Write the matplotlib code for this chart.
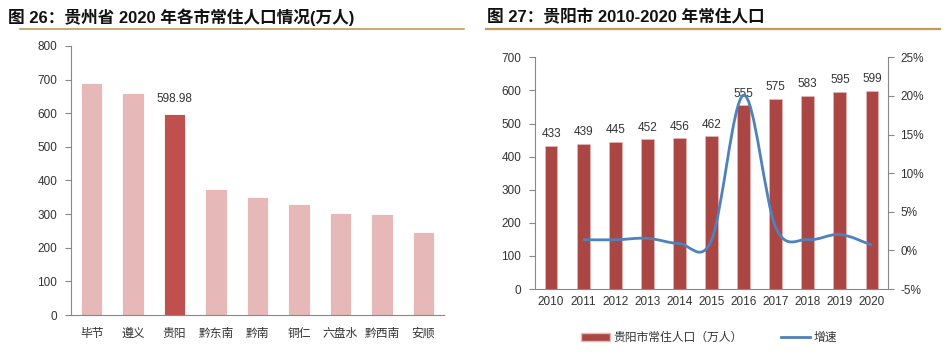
import numpy as np
import matplotlib.pyplot as plt
from matplotlib.path import Path
from matplotlib.patches import PathPatch
from matplotlib.lines import Line2D
from matplotlib.patches import Patch
from matplotlib.ticker import FuncFormatter

plt.rcParams['font.family'] = ['Liberation Sans', 'Noto Sans CJK SC', 'DejaVu Sans']

# left chart data
cities = ["毕节", "遵义", "贵阳", "黔东南", "黔南", "铜仁", "六盘水", "黔西南", "安顺"]
pop_2020 = [689, 660, 598.98, 375, 350, 329, 303, 301, 247]

# right chart data
years = ["2010", "2011", "2012", "2013", "2014", "2015", "2016", "2017", "2018", "2019", "2020"]
gy_pop = [433, 439, 445, 452, 456, 462, 555, 575, 583, 595, 599]
growth = [None, 1.39, 1.37, 1.57, 0.88, 1.32, 20.1, 3.0, 1.39, 2.06, 0.67]

txt = "#333333"
spine_c = "#888888"
gold = "#C39A52"

fig = plt.figure(figsize=(9.48, 3.54), dpi=100)

# titles and rules
fig.text(8/948, 1-17/354, "图 26：贵州省 2020 年各市常住人口情况(万人)", fontsize=12,
         fontweight="bold", va="center", ha="left", color="#111111")
fig.text(487/948, 1-17/354, "图 27：贵阳市 2010-2020 年常住人口", fontsize=12,
         fontweight="bold", va="center", ha="left", color="#111111")
fig.add_artist(Line2D([20/948, 464/948], [1-29/354]*2, color=gold, lw=1.2))
fig.add_artist(Line2D([486/948, 940/948], [1-29/354]*2, color=gold, lw=1.6))

# ---- left chart
ax1 = fig.add_axes([71/948, 1-315/354, 373/948, 269/354])
colors = ["#E6B8B7"] * len(cities)
colors[2] = "#C0504D"
x1 = np.arange(len(cities))
ax1.bar(x1, pop_2020, width=0.52, color=colors, edgecolor="white", linewidth=0.6)
ax1.set_xlim(-0.5, len(cities) - 0.5)
ax1.set_ylim(0, 800)
ax1.set_yticks(range(0, 801, 100))
ax1.set_xticks(x1)
ax1.set_xticklabels(cities)
ax1.annotate(f"{pop_2020[2]:.2f}", (x1[2], pop_2020[2]), xytext=(0, 6),
             textcoords="offset points", ha="center", va="bottom", fontsize=8.5, color=txt)
for s in ["top", "right"]:
    ax1.spines[s].set_visible(False)
for s in ["left", "bottom"]:
    ax1.spines[s].set_color(spine_c)
ax1.tick_params(axis="y", length=4, color=spine_c, labelsize=8.5, labelcolor=txt, pad=6)
ax1.tick_params(axis="x", length=0, labelsize=8.5, labelcolor=txt, pad=9)

# ---- right chart
ax2 = fig.add_axes([535/948, 1-289/354, 353/948, (289-57.3)/354])
x2 = np.arange(len(years))
ax2.bar(x2, gy_pop, width=0.4, color="#AA4643", edgecolor="#E6B8B7", linewidth=0.5)
for xi, v in zip(x2, gy_pop):
    ax2.annotate(str(v), (xi, v), xytext=(0, 4), textcoords="offset points",
                 ha="center", va="bottom", fontsize=8.5, color=txt)
ax2.set_xlim(-0.5, len(years) - 0.5)
ax2.set_ylim(0, 700)
ax2.set_yticks(range(0, 701, 100))
ax2.set_xticks(x2)
ax2.set_xticklabels(years)
for s in ["top", "right"]:
    ax2.spines[s].set_visible(False)
for s in ["left", "bottom"]:
    ax2.spines[s].set_color(spine_c)
ax2.tick_params(axis="y", length=4, color=spine_c, labelsize=8.5, labelcolor=txt, pad=6)
ax2.tick_params(axis="x", length=0, labelsize=8.5, labelcolor=txt, pad=5)

ax3 = ax2.twinx()
ax3.set_ylim(-5, 25)
ax3.set_yticks(range(-5, 26, 5))
ax3.yaxis.set_major_formatter(FuncFormatter(lambda v, p: f"{int(v)}%"))
for s in ["top", "left", "bottom"]:
    ax3.spines[s].set_visible(False)
ax3.spines["right"].set_color(spine_c)
ax3.tick_params(axis="y", length=4, color=spine_c, labelsize=8.5, labelcolor=txt, pad=5)

# smoothed growth line (Catmull-Rom as cubic Bezier segments)
gx = [x for x, g in zip(x2, growth) if g is not None]
gy = [g for g in growth if g is not None]
pts = np.column_stack([gx, gy]).astype(float)
verts = [tuple(pts[0])]
codes = [Path.MOVETO]
for i in range(len(pts) - 1):
    p0 = pts[i - 1] if i > 0 else pts[i]
    p1, p2 = pts[i], pts[i + 1]
    p3 = pts[i + 2] if i + 2 < len(pts) else pts[i + 1]
    c1 = p1 + (p2 - p0) / 6
    c2 = p2 - (p3 - p1) / 6
    verts += [tuple(c1), tuple(c2), tuple(p2)]
    codes += [Path.CURVE4] * 3
ax3.add_patch(PathPatch(Path(verts, codes), facecolor="none", edgecolor="#4F81BD",
                        lw=2, zorder=5))

handles = [Patch(facecolor="#AA4643", edgecolor="#E6B8B7"),
           Line2D([0], [0], color="#4F81BD", lw=2)]
fig.legend(handles, ["贵阳市常住人口（万人）", "增速"], loc="center",
           bbox_to_anchor=(709/948, 1-338/354), ncol=2, frameon=False,
           fontsize=8.5, handlelength=2.4, handleheight=0.6, columnspacing=3.3,
           handletextpad=0.3, labelcolor=txt)

fig.savefig("out.png", dpi=100)
plt.close(fig)
